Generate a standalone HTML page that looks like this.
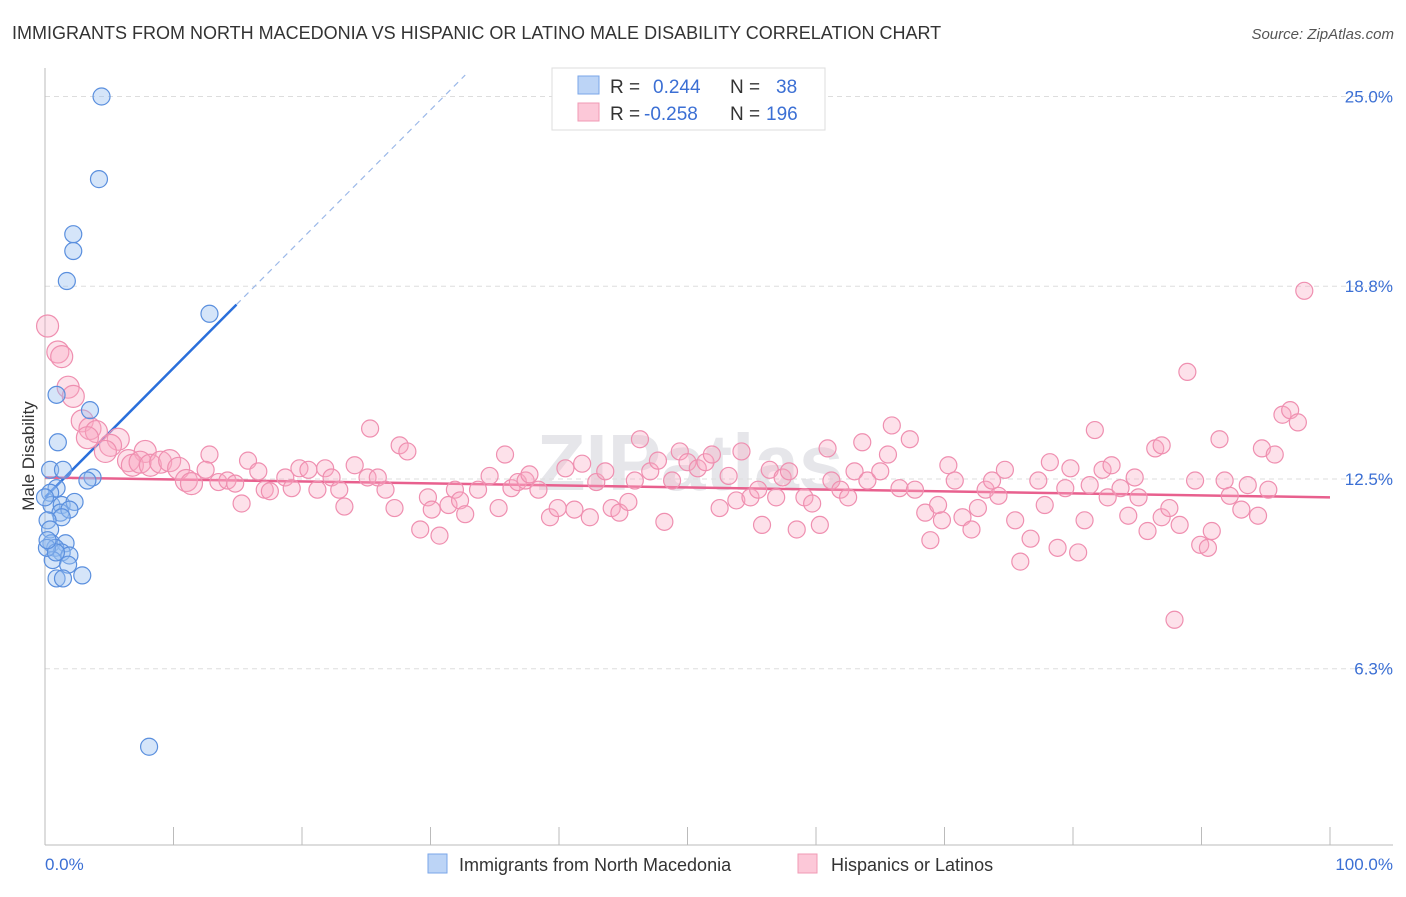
<!DOCTYPE html>
<html><head><meta charset="utf-8"><style>
body{margin:0;background:#fff;font-family:"Liberation Sans",sans-serif}
svg text{font-family:"Liberation Sans",sans-serif}
</style></head><body>
<svg id="chart" width="1406" height="892" xmlns="http://www.w3.org/2000/svg">
<text x="12" y="39" font-size="18" fill="#333">IMMIGRANTS FROM NORTH MACEDONIA VS HISPANIC OR LATINO MALE DISABILITY CORRELATION CHART</text>
<text x="1394" y="39" font-size="15" fill="#555" text-anchor="end" font-style="italic">Source: ZipAtlas.com</text>
<text x="690" y="490" font-size="80" fill="#e6e6ea" text-anchor="middle" font-weight="bold">ZIPatlas</text>
<g id="grid"></g>
<line x1="45" y1="68" x2="45" y2="845" stroke="#bbb"/>
<line x1="45" y1="845" x2="1393" y2="845" stroke="#bbb"/>
<g id="xticks"></g>
<text transform="translate(34,456) rotate(-90)" font-size="17" fill="#333" text-anchor="middle">Male Disability</text>
<text x="45" y="870" font-size="17" fill="#3b6fd4">0.0%</text>
<text x="1393" y="870" font-size="17" fill="#3b6fd4" text-anchor="end">100.0%</text>
<g id="trend"></g>
<g id="pink"></g>
<g id="blue"></g>
<g>
<rect x="552" y="68" width="273" height="62" fill="#fff" stroke="#ddd"/>
<rect x="578" y="76" width="21" height="18" fill="#bcd4f6" stroke="#7aa6e8"/>
<rect x="578" y="103" width="21" height="18" fill="#fcc8d8" stroke="#f09ab4"/>
<text x="610" y="93" font-size="19" fill="#333">R =</text>
<text x="653" y="93" font-size="19" fill="#3b6fd4">0.244</text>
<text x="730" y="93" font-size="19" fill="#333">N =</text>
<text x="776" y="93" font-size="19" fill="#3b6fd4">38</text>
<text x="610" y="120" font-size="19" fill="#333">R =</text>
<text x="644" y="120" font-size="19" fill="#3b6fd4">-0.258</text>
<text x="730" y="120" font-size="19" fill="#333">N =</text>
<text x="766" y="120" font-size="19" fill="#3b6fd4">196</text>
</g>
<g>
<rect x="428" y="854" width="19" height="19" fill="#bcd4f6" stroke="#7aa6e8"/>
<text x="459" y="871" font-size="18" fill="#333">Immigrants from North Macedonia</text>
</g>
<g>
<rect x="798" y="854" width="19" height="19" fill="#fcc8d8" stroke="#f09ab4"/>
<text x="831" y="871" font-size="18" fill="#333">Hispanics or Latinos</text>
</g>
</svg>
<script>
const yTicks=[25.0,18.8,12.5,6.3];
const yTickLabels=["25.0%","18.8%","12.5%","6.3%"];
const xTicks=[0,10,20,30,40,50,60,70,80,90,100];
const blueX=[4.4,4.2,2.2,2.2,1.7,12.8,0.9,3.5,1.0,0.4,1.4,3.7,3.3,0.9,0.4,0.5,1.3,2.3,1.2,1.9,1.3,0.2,0.4,0.5,1.6,0.8,1.3,1.9,0.6,1.8,2.9,0.9,1.4,8.1,0.15,0.85,0,0.2];
const blueY=[25.0,22.3,20.5,19.95,18.97,17.9,15.25,14.75,13.7,12.8,12.8,12.55,12.45,12.2,12.05,11.65,11.65,11.75,11.4,11.5,11.25,11.15,10.85,10.4,10.4,10.25,10.1,10.0,9.85,9.7,9.35,9.25,9.25,3.75,10.25,10.1,11.9,10.5];
const pinkX=[0.2,1.0,1.3,1.8,2.2,2.9,3.5,4.0,3.3,5.7,5.1,7.8,4.7,6.5,6.8,7.4,8.2,9.0,9.7,10.4,11.0,11.4,12.8,12.5,13.5,14.2,14.8,15.3,15.8,16.6,17.1,17.5,18.7,19.2,19.8,20.5,21.2,21.8,22.3,22.9,23.3,24.1,25.3,25.1,25.9,26.5,27.2,27.6,28.2,29.2,29.8,30.1,30.7,31.4,31.9,32.3,32.7,33.7,34.6,35.3,35.8,36.3,36.8,37.4,37.7,38.4,39.3,39.9,40.5,41.2,41.8,42.4,42.9,43.6,44.1,44.7,45.4,45.9,46.3,47.1,47.7,48.2,48.8,49.4,50.0,50.8,51.4,51.9,52.5,53.2,53.8,54.2,54.9,55.5,55.8,56.4,56.9,57.4,57.9,58.5,59.1,59.7,60.3,60.9,61.2,61.9,62.5,63.0,63.6,64.0,65.0,65.6,65.9,66.5,67.3,67.7,68.5,68.9,69.5,69.8,70.3,70.8,71.4,72.1,72.6,73.2,73.7,74.2,74.7,75.5,75.9,76.7,77.3,77.8,78.2,78.8,79.4,79.8,80.4,80.9,81.3,81.7,82.3,82.7,83.0,83.7,84.3,84.8,85.1,85.8,86.4,86.9,86.9,87.5,87.9,88.3,88.9,89.5,89.9,90.5,90.8,91.4,91.8,92.2,93.1,93.6,94.4,94.7,95.2,95.7,96.3,96.9,97.5,98.0];
const pinkY=[17.5,16.65,16.5,15.5,15.2,14.4,14.15,14.05,13.85,13.8,13.6,13.4,13.4,13.1,12.95,13.05,12.95,13.05,13.1,12.85,12.45,12.35,13.3,12.8,12.4,12.45,12.35,11.7,13.1,12.75,12.15,12.1,12.55,12.2,12.85,12.8,12.15,12.85,12.55,12.15,11.6,12.95,14.15,12.55,12.55,12.15,11.55,13.6,13.4,10.85,11.9,11.5,10.65,11.65,12.15,11.8,11.35,12.15,12.6,11.55,13.3,12.2,12.4,12.45,12.65,12.15,11.25,11.55,12.85,11.5,13.0,11.25,12.4,12.75,11.55,11.4,11.75,12.45,13.8,12.75,13.1,11.1,12.45,13.4,13.05,12.85,13.05,13.3,11.55,12.6,11.8,13.4,11.9,12.15,11.0,12.8,11.9,12.55,12.75,10.85,11.9,11.7,11.0,13.5,12.45,12.15,11.9,12.75,13.7,12.45,12.75,13.3,14.25,12.2,13.8,12.15,11.4,10.5,11.65,11.15,12.95,12.45,11.25,10.85,11.55,12.15,12.45,11.95,12.8,11.15,9.8,10.55,12.45,11.65,13.05,10.25,12.2,12.85,10.1,11.15,12.3,14.1,12.8,11.9,12.95,12.2,11.3,12.55,11.9,10.8,13.5,13.6,11.25,11.55,7.9,11.0,16.0,12.45,10.35,10.25,10.8,13.8,12.45,11.95,11.5,12.3,11.3,13.5,12.15,13.3,14.6,14.75,14.35,18.65];
const blueTrend=[[0,11.9],[14.9,18.2]];
const blueTrendExt=[[14.9,18.2],[32.7,25.7]];
const pinkTrend=[[0,12.55],[100,11.9]];

const NS="http://www.w3.org/2000/svg";
const X=v=>45+v*12.85;
const Y=v=>479-(v-12.5)*30.6;
function mk(tag,parent,attrs){const e=document.createElementNS(NS,tag);for(const k in attrs)e.setAttribute(k,attrs[k]);parent.appendChild(e);return e;}
const grid=document.getElementById('grid');
yTicks.forEach((t,i)=>{
  const l=mk('line',grid,{x1:45,x2:1393,y1:Y(t),y2:Y(t),stroke:'#ddd','stroke-dasharray':'5,4'});
  
  
  const tx=mk('text',grid,{x:1393,y:Y(t)+6,'font-size':17,fill:'#3b6fd4','text-anchor':'end'});
  tx.textContent=yTickLabels[i];
  
  
});
const xt=document.getElementById('xticks');
xTicks.forEach(t=>{
  const l=mk('line',xt,{x1:X(t),x2:X(t),y1:827,y2:845,stroke:'#bbb'});
  
  
});
const tr=document.getElementById('trend');
let l1=mk('line',tr,{x1:X(blueTrend[0][0]),y1:Y(blueTrend[0][1]),x2:X(blueTrend[1][0]),y2:Y(blueTrend[1][1]),stroke:'#2a6fdb','stroke-width':2.5});


let l2=mk('line',tr,{x1:X(blueTrendExt[0][0]),y1:Y(blueTrendExt[0][1]),x2:X(blueTrendExt[1][0]),y2:Y(blueTrendExt[1][1]),stroke:'#9bb8e8','stroke-width':1.2,'stroke-dasharray':'6,5'});


let l3=mk('line',tr,{x1:X(pinkTrend[0][0]),y1:Y(pinkTrend[0][1]),x2:X(pinkTrend[1][0]),y2:Y(pinkTrend[1][1]),stroke:'#e8608e','stroke-width':2.5});


const pg=document.getElementById('pink');
pinkX.forEach((x,i)=>{
  const r=x<12?11:8.5;
  const c=mk('circle',pg,{cx:X(x),cy:Y(pinkY[i]),r:r,fill:'rgba(248,170,195,0.35)',stroke:'#ef8fb0','stroke-width':1.2});
  
  
});
const bg=document.getElementById('blue');
blueX.forEach((x,i)=>{
  const c=mk('circle',bg,{cx:X(x),cy:Y(blueY[i]),r:8.5,fill:'rgba(150,190,240,0.4)',stroke:'#5a8fde','stroke-width':1.2});
  
  
});
</script>
</body></html>
